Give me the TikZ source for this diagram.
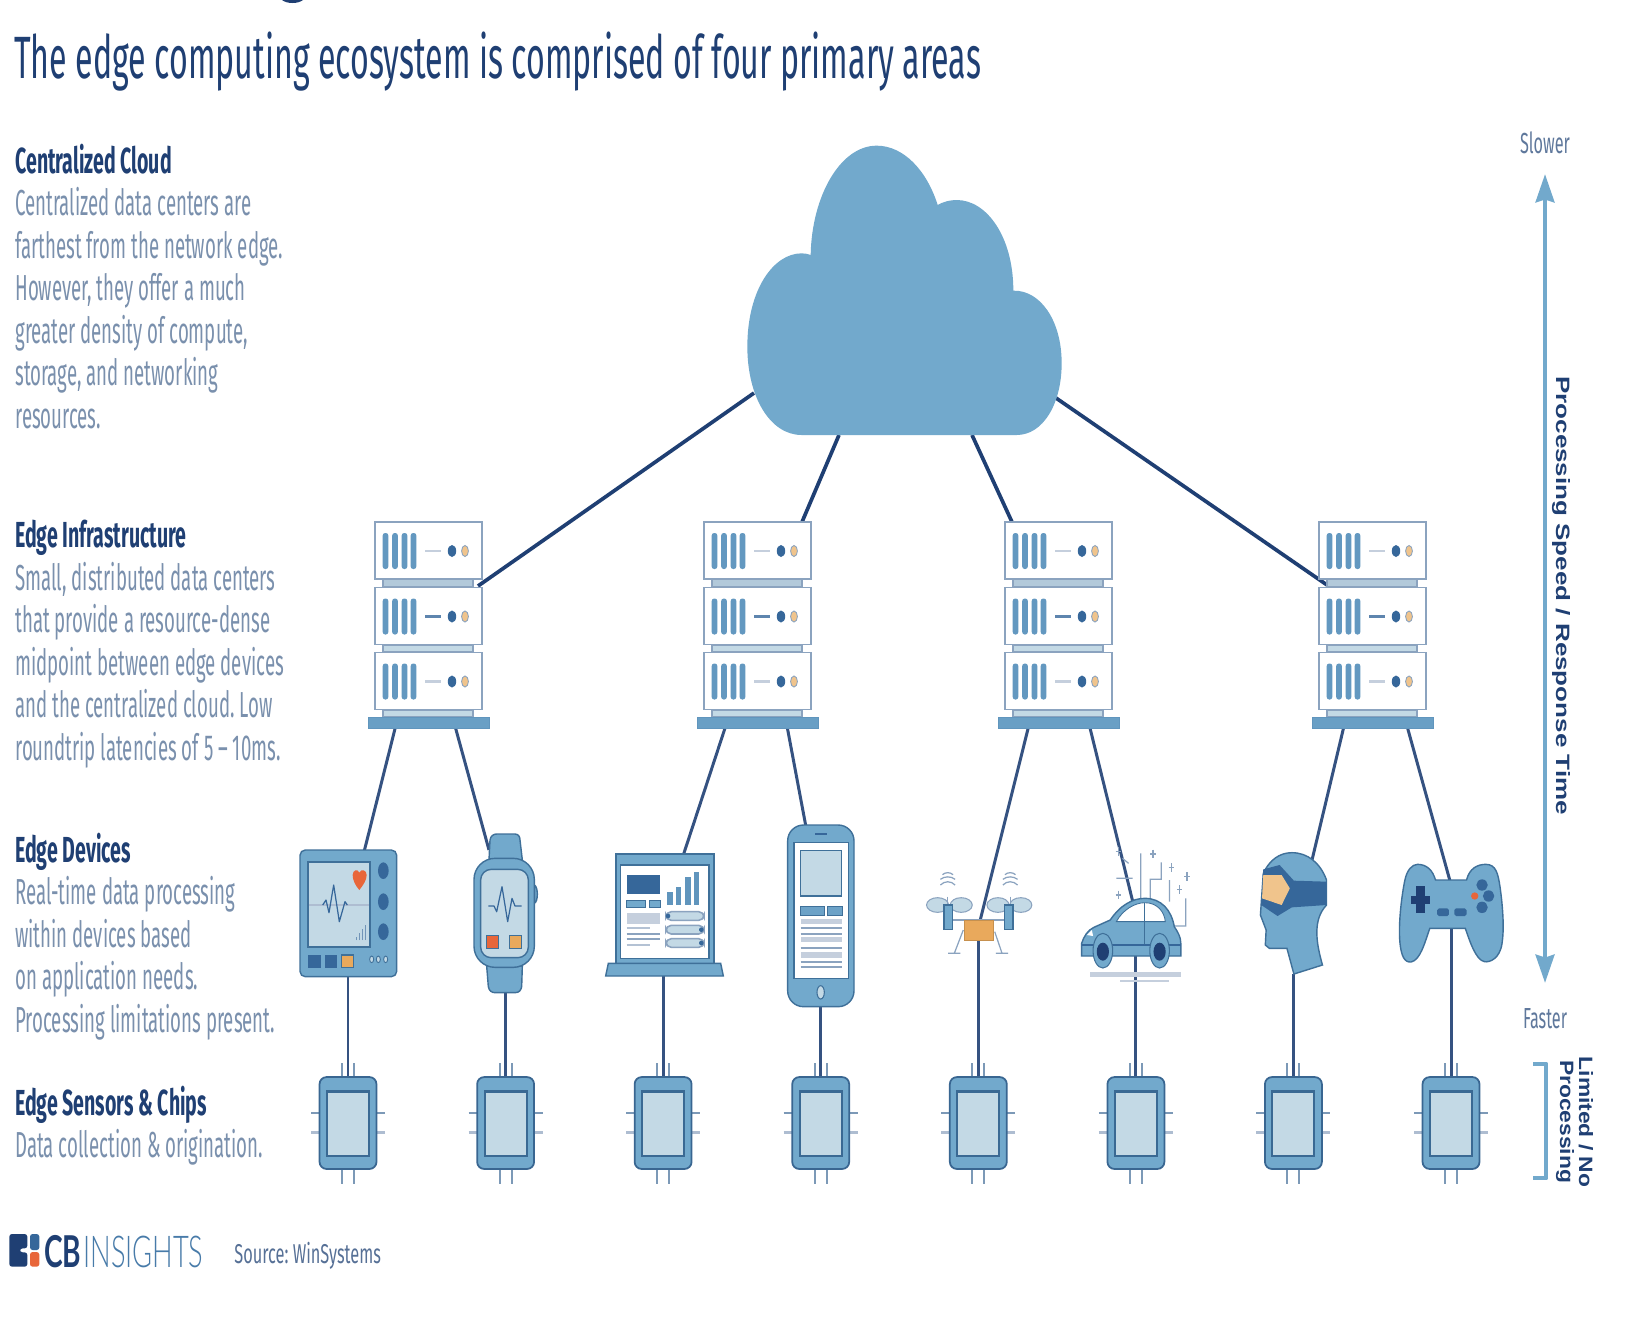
\documentclass[tikz,border=0pt]{standalone}
\usepackage{fontspec}
\usetikzlibrary{fit,arrows.meta}
\setmainfont{Fira Sans}
\newfontfamily\tfont[FakeStretch=0.538]{Fira Sans}
\newfontfamily\bfont[FakeStretch=0.515]{Fira Sans}
\newfontfamily\hfont[FakeStretch=0.54]{Fira Sans}
\newfontfamily\sfont[FakeStretch=0.60]{Fira Sans}
\newfontfamily\ffont[FakeStretch=0.56]{Fira Sans}
\newfontfamily\lfont[FakeStretch=0.64]{Lato}
\newfontfamily\llfont[FakeStretch=0.62]{Lato Light}
\newfontfamily\wfont[FakeStretch=1.345]{Liberation Sans}
\newfontfamily\xfont[FakeStretch=1.18]{Liberation Sans}
\definecolor{navy}{HTML}{1F3F73}
\definecolor{inkb}{HTML}{7A90AD}
\definecolor{cblue}{HTML}{72A9CC}
\definecolor{mid}{HTML}{36679A}
\definecolor{edge}{HTML}{3F7099}
\definecolor{pale}{HTML}{C3D9E5}
\definecolor{gry}{HTML}{C5CFDD}
\definecolor{org}{HTML}{E9A95C}
\definecolor{red}{HTML}{E8663A}
\definecolor{pch}{HTML}{F0C48C}
\definecolor{rackl}{HTML}{8BA3BF}
\def\rackbox(#1,#2){%
  \fill[white,draw=rackl,line width=1pt] (#1-53,#2) rectangle (#1+54,#2+57);
  \foreach \o in {-42.5,-33,-23.5,-14.5}{\fill[cblue!75!mid,rounded corners=1.4pt] (#1+\o-2.8,#2+11) rectangle (#1+\o+2.8,#2+47);}
  \fill[mid] (#1+24,#2+29) ellipse (4.2 and 6);
  \fill[pch,draw=rackl,line width=.5pt] (#1+37,#2+29) ellipse (3.4 and 5.5);
}
\newcommand\rackunit[1]{%
  \fill[pale!70!rackl,draw=rackl,line width=.8pt] (#1-45,579) rectangle (#1+45,587);
  \fill[pale,draw=rackl,line width=.8pt] (#1-45,645) rectangle (#1+45,652);
  \fill[pale,draw=rackl,line width=.8pt] (#1-45,710) rectangle (#1+45,717);
  \rackbox(#1,522)\rackbox(#1,587.5)\rackbox(#1,652.5)
  \draw[gry,line width=1.5pt] (#1-3,551)--(#1+13,551);
  \draw[mid!80!white,line width=1.5pt] (#1-3,616.5)--(#1+13,616.5);
  \draw[gry,line width=1.5pt] (#1-3,681.5)--(#1+13,681.5);
}
\tikzset{
  linkA/.style={navy,line width=2.1pt},
  linkB/.style={navy!90!white,line width=1.7pt},
  ghost/.style={inner sep=0pt,outer sep=0pt},
  chipbody/.style={draw=edge!80!navy,fill=cblue,line width=1pt,rounded corners=4pt,minimum width=32.4pt,minimum height=52.3pt,inner sep=0pt},
  pin/.style={rackl!80!edge,line width=1.1pt},
  txt/.style={anchor=base west,inner sep=0pt,text=inkb},
  hd/.style={anchor=base west,inner sep=0pt,text=navy},
  z2/.style={shift={(290,830)},scale=0.33333},
  z3/.style={shift={(900,830)},xscale=0.40816,yscale=0.33333},
  z8/.style={shift={(780,820)},scale=0.33333},
  z9/.style={shift={(730,130)},scale=0.33333},
  z6/.style={shift={(0,1220)},scale=0.33333},
  icon/.style={fill=cblue,draw=edge,line width=.8pt},
}
\frenchspacing
\begin{document}
\begin{tikzpicture}[x=0.02cm,y=-0.02cm]
\useasboundingbox (0,0) rectangle (1628,1316);
\fill[white] (0,0) rectangle (1628,1316);
% cut-off descender
\fill[navy] (282,0) .. controls (287,4) and (298,4) .. (303,0) -- cycle;
% title
\node[anchor=base west,inner sep=0pt,text=navy] (title) at (14,78) {\tfont\fontsize{34pt}{34pt}\selectfont The edge computing ecosystem is comprised of four primary areas};
% left texts
\def\bsz{\bfont\fontsize{20.6pt}{20.6pt}\selectfont}
\def\hsz{\hfont\bfseries\fontsize{20.6pt}{20.6pt}\selectfont}
\node[hd] (h1) at (15,173) {\hsz Centralized Cloud};
\node[txt] (t11) at (15,215.5) {\bsz Centralized data centers are};
\node[txt] (t12) at (15,258) {\bsz farthest from the network edge.};
\node[txt] (t13) at (15,300.5) {\bsz However, they offer a much};
\node[txt] (t14) at (15,343) {\bsz greater density of compute,};
\node[txt] (t15) at (15,385.5) {\bsz storage, and networking};
\node[txt] (t16) at (15,428) {\bsz resources.};
\node[hd] (h2) at (15,547.5) {\hsz Edge Infrastructure};
\node[txt] (t21) at (15,590) {\bsz Small, distributed data centers};
\node[txt] (t22) at (15,632.5) {\bsz that provide a resource-dense};
\node[txt] (t23) at (15,675) {\bsz midpoint between edge devices};
\node[txt] (t24) at (15,717.5) {\bsz and the centralized cloud. Low};
\node[txt] (t25) at (15,760) {\bsz roundtrip latencies of 5 – 10ms.};
\node[hd] (h3) at (15,862) {\hsz Edge Devices};
\node[txt] (t31) at (15,904) {\bsz Real-time data processing};
\node[txt] (t32) at (15,947) {\bsz within devices based};
\node[txt] (t33) at (15,989.5) {\bsz on application needs.};
\node[txt] (t34) at (15,1032) {\bsz Processing limitations present.};
\node[hd] (h4) at (15,1115) {\hsz Edge Sensors \& Chips};
\node[txt] (t41) at (15,1157.5) {\bsz Data collection \& origination.};
% logo
\begin{scope}[z6]
\fill[navy,rounded corners=1.5pt] (28,42) -- (82,42) -- (82,85) -- (60,85) -- (60,97) -- (82,97) -- (82,140) -- (28,140) -- cycle;
\fill[mid,rounded corners=1.5pt] (90,42) rectangle (118,90);
\fill[red,rounded corners=1.5pt] (90,96) rectangle (118,140);
\end{scope}
\node[anchor=base west,inner sep=0pt,text=navy] (cb) at (44,1267) {\lfont\bfseries\fontsize{25pt}{25pt}\selectfont CB};
\node[anchor=base west,inner sep=0pt,text=mid!70!cblue] (ins) at (83,1267) {\llfont\fontsize{25pt}{25pt}\selectfont INSIGHTS};
\node[anchor=base west,inner sep=0pt,text=inkb!60!navy] (src) at (234,1263) {\sfont\fontsize{15.5pt}{15.5pt}\selectfont Source: WinSystems};
% right scale
\node[inner sep=0pt,text=inkb!70!navy] (slow) at (1545,143) {\ffont\fontsize{16.5pt}{16.5pt}\selectfont Slower};
\node[inner sep=0pt,text=inkb!70!navy] (fast) at (1545,1019) {\ffont\fontsize{16.5pt}{16.5pt}\selectfont Faster};
\coordinate (aT) at (1545,174);
\coordinate (aB) at (1545,983);
\draw[cblue,line width=2.8pt,{Stealth[length=16pt,width=10.5pt,inset=1.5pt]}-{Stealth[length=16pt,width=10.5pt,inset=1.5pt]}] (aT) -- (aB);
\node[rotate=-90,inner sep=0pt,text=navy] (speed) at (1561,595.6) {\wfont\bfseries\fontsize{11pt}{11pt}\selectfont Processing Speed / Response Time};
\draw[cblue,line width=2.8pt,line join=round] (1533,1064) -- (1546,1064) -- (1546,1178) -- (1533,1178);
\node[rotate=-90,inner sep=0pt,text=navy] (lim1) at (1586,1122) {\xfont\bfseries\fontsize{11pt}{11pt}\selectfont Limited / No};
\node[rotate=-90,inner sep=0pt,text=navy] (lim2) at (1565,1121.5) {\xfont\bfseries\fontsize{11pt}{11pt}\selectfont Processing};
% anchors for connectors
\node[ghost,fit={(747,145)(1062,435)}] (cloud) {};
\foreach \n/\x in {1/428,2/757,3/1058,4/1372}{
  \node[ghost,fit={(\x-60,522)(\x+60,728)}] (rack\n) {};
}
\coordinate (cl1) at (754,393); \coordinate (cl2) at (839,435);
\coordinate (cl3) at (972,435); \coordinate (cl4) at (1056,398);
\coordinate (rt1) at (478,586); \coordinate (rt2) at (802,522);
\coordinate (rt3) at (1012,522); \coordinate (rt4) at (1328.5,586);
\draw[linkA] (cl1) -- (rt1);
\draw[linkA] (cl2) -- (rt2);
\draw[linkA] (cl3) -- (rt3);
\draw[linkA] (cl4) -- (rt4);
% rack to device
\coordinate (b1) at (395.7,726); \coordinate (b2) at (455,726);
\coordinate (b3) at (725.7,726); \coordinate (b4) at (787,726);
\coordinate (b5) at (1028.7,726); \coordinate (b6) at (1089.5,726);
\coordinate (b7) at (1344,726); \coordinate (b8) at (1407,726);
\coordinate (e1) at (364,852); \coordinate (e2) at (489,850);
\coordinate (e3) at (683,856); \coordinate (e4) at (806,827);
\coordinate (e5) at (980,921); \coordinate (e6) at (1132.6,901);
\coordinate (e7) at (1312,860); \coordinate (e8) at (1450,881);
\foreach \n in {1,...,8}{\draw[linkB] (b\n) -- (e\n);}
% device ghosts
\node[ghost,fit={(300,850)(397,977)}] (d1) {};
\node[ghost,fit={(475,834)(536,993)}] (d2) {};
\node[ghost,fit={(606,854)(722,976)}] (d3) {};
\node[ghost,fit={(788,825)(854,1007)}] (d4) {};
\node[ghost,fit={(954,920)(1002,940)}] (d5) {};
\node[ghost,fit={(1081,900)(1189,955)}] (d6) {};
\node[ghost,fit={(1260,858)(1326,974)}] (d7) {};
\node[ghost,fit={(1400,880)(1502,925)}] (d8) {};
% chips
\foreach \n/\x in {1/348,2/505.6,3/663.1,4/820.7,5/978.3,6/1135.9,7/1293.4,8/1451}{
  \foreach \o in {-6,6}{
    \draw[pin] (\x+\o,1063) -- (\x+\o,1078);
    \draw[pin] (\x+\o,1168) -- (\x+\o,1184);
  }
  \draw[pin] (\x-37,1113) -- (\x-27,1113);
  \draw[pin,line width=1.7pt,gry!60!rackl] (\x-37,1132) -- (\x-27,1132);
  \draw[pin] (\x+27,1113) -- (\x+37,1113);
  \draw[pin,line width=1.7pt,gry!60!rackl] (\x+27,1132) -- (\x+37,1132);
  \node[chipbody] (c\n) at (\x,1123) {};
  \fill[pale,draw=edge!85!navy,line width=1.2pt] (\x-21,1091.5) rectangle (\x+21,1156);
  \draw[linkB] (c\n.north |- d\n.south) -- (c\n.north);
}
% racks
\foreach \x in {428,757,1058,1372}{
  \rackunit{\x}
  \fill[cblue!85!mid,draw=cblue!70!mid,line width=.5pt] (\x-60,717) rectangle (\x+61,728);
}
% cloud
\begin{scope}[z9]
\fill[cblue] (215,915) .. controls (120,915) and (52,800) .. (52,650) .. controls (52,480) and (130,370) .. (215,370) .. controls (225,370) and (235,372) .. (242,375) .. controls (245,200) and (330,47) .. (440,47) .. controls (520,47) and (590,120) .. (623,225) .. controls (640,215) and (660,210) .. (680,210) .. controls (770,210) and (850,320) .. (850,482) .. controls (930,480) and (995,570) .. (995,700) .. controls (995,820) and (940,915) .. (860,915) -- cycle;
\end{scope}
% monitor, watch, laptop
\begin{scope}[z2]
% monitor
\fill[icon,rounded corners=3pt] (30,60) rectangle (320,440);
\fill[pale,draw=edge,line width=1.2pt] (55,97) rectangle (240,350);
\draw[gry!60!rackl,line width=1.2pt] (58,226) -- (237,226);
\draw[mid,line width=.7pt,line join=round] (98,225) -- (108,210) -- (117,248) -- (131,165) -- (148,275) -- (165,215) -- (172,225);
\fill[red] (208,180) .. controls (195,165) and (188,150) .. (188,135) .. controls (188,120) and (203,115) .. (208,128) .. controls (213,115) and (230,120) .. (230,135) .. controls (230,150) and (220,165) .. (208,180) -- cycle;
\foreach \y in {122,215,305}{\fill[mid] (280,\y) ellipse (16 and 25);}
\fill[mid] (55,375) rectangle (92,413);
\fill[mid] (105,375) rectangle (140,413);
\fill[org,draw=edge,line width=.6pt] (155,375) rectangle (190,413);
\foreach \x in {245,265,287}{\fill[pale,draw=edge,line width=.5pt] (\x,388) ellipse (6 and 10);}
\foreach \x/\t in {199/320,208/310,217/298,226/285}{\draw[mid!70!white,line width=.6pt] (\x,330) -- (\x,\t);}
% watch
\fill[icon] (597,90) -- (600,30) .. controls (602,18) and (610,12) .. (620,12) -- (675,12) .. controls (685,12) and (690,20) .. (690,30) -- (697,90) -- cycle;
\fill[icon] (590,408) -- (595,470) .. controls (597,482) and (605,488) .. (615,488) -- (675,488) .. controls (688,488) and (693,480) .. (695,470) -- (697,408) -- cycle;
\fill[icon] (733,165) .. controls (745,170) and (745,215) .. (733,220) -- cycle;
\fill[icon,rounded corners=12pt] (552,85) rectangle (733,412);
\fill[pale,draw=edge,line width=.8pt,rounded corners=6pt] (572,118) rectangle (715,383);
\draw[mid,line width=.7pt,line join=round] (595,228) -- (612,228) -- (620,245) -- (636,170) -- (653,275) -- (666,205) -- (675,228) -- (695,228);
\fill[red,draw=edge,line width=.5pt] (590,317) rectangle (625,355);
\fill[org,draw=edge,line width=.5pt] (658,317) rectangle (695,355);
% laptop
\fill[icon] (978,72) rectangle (1272,402);
\fill[white,draw=edge,line width=.8pt] (992,105) rectangle (1257,385);
\fill[icon] (955,400) -- (1292,400) -- (1300,438) -- (947,438) -- cycle;
\fill[mid] (1010,135) rectangle (1110,192);
\fill[cblue,draw=edge,line width=.4pt] (1010,210) rectangle (1067,233);
\fill[cblue,draw=edge,line width=.4pt] (1077,210) rectangle (1110,233);
\fill[gry] (1010,250) rectangle (1110,282);
\draw[gry!70!rackl,line width=1.2pt] (1010,295) -- (1080,295);
\draw[rackl,line width=1.2pt] (1010,312) -- (1110,312) (1010,328) -- (1110,328);
\draw[gry!70!rackl,line width=1.2pt] (1010,346) -- (1080,346);
\fill[cblue!70!mid] (1132,185) rectangle (1148,225);
\fill[cblue!70!mid] (1157,172) rectangle (1173,225);
\fill[cblue!70!mid] (1185,142) rectangle (1202,225);
\fill[cblue!70!mid] (1212,127) rectangle (1227,225);
\foreach \y in {245,286,326}{\fill[pale,draw=rackl,line width=.9pt,rounded corners=3pt] (1128,\y) rectangle (1242,\y+26);}
\fill[mid] (1134,258) circle (7); \fill[mid] (1234,299) circle (7); \fill[mid] (1234,339) circle (7);
\end{scope}
% tablet
\begin{scope}[z8]
\fill[icon,rounded corners=9pt] (23,15) rectangle (222,560);
\fill[white,draw=edge,line width=.7pt] (42,67) rectangle (205,475);
\draw[mid,line width=1pt] (106,43) -- (140,43);
\fill[pale,draw=edge,line width=.8pt] (62,92) rectangle (185,228);
\fill[cblue!90!mid,draw=edge,line width=.4pt] (62,258) rectangle (133,287);
\fill[cblue!90!mid,draw=edge,line width=.4pt] (142,258) rectangle (187,287);
\foreach \a/\b in {297/313,338/345,350/367,397/413}{\fill[gry] (62,\a) rectangle (186,\b);}
\foreach \y in {325,342,383,425,442}{\draw[rackl,line width=1.1pt] (62,\y) -- (186,\y);}
\fill[pale,draw=edge,line width=.6pt] (122,517) ellipse (11 and 20);
\end{scope}
% drone, car, head, gamepad
\begin{scope}[z3]
% drone
\foreach \x in {92,150,240,296}{\fill[pale,draw=rackl,line width=.6pt] (\x,225) ellipse (27 and 22);}
\draw[rackl,line width=.9pt] (125,270) -- (260,270);
\draw[rackl,line width=.7pt] (155,300) -- (133,370) (118,370) -- (148,370) (232,305) -- (250,370) (235,370) -- (265,370);
\draw[rackl,line width=.7pt] (117,200) -- (117,225) (270,200) -- (270,225);
\fill[icon] (108,225) rectangle (128,298);
\fill[icon] (256,225) rectangle (277,298);
\fill[org,draw=org!85!black,line width=.4pt] (157,270) rectangle (228,330);
\foreach \x in {117,270}{
  \draw[rackl,line width=.7pt] (\x-18,148) .. controls (\x-8,138) and (\x+8,138) .. (\x+18,148);
  \draw[rackl,line width=.7pt] (\x-18,165) .. controls (\x-8,152) and (\x+8,152) .. (\x+18,165);
  \draw[rackl,line width=.7pt] (\x-13,134) .. controls (\x-6,126) and (\x+6,126) .. (\x+13,134);
}
% car
\fill[gry] (465,425) rectangle (688,440);
\fill[gry] (540,450) rectangle (658,456);
\draw[rackl,line width=.7pt] (590,205) -- (590,70) (613,210) -- (613,148) -- (640,148) -- (640,97) (660,215) -- (660,150) (672,288) -- (700,288) -- (700,205) (530,145) -- (570,145) (545,85) -- (560,100);
\foreach \x/\y in {620/72,665/112,703/140,685/178,535/195,535/65}{
  \draw[rackl,line width=.7pt] (\x-7,\y) -- (\x+7,\y) (\x,\y-13) -- (\x,\y+13);
}
\fill[icon] (445,378) -- (445,340) .. controls (450,320) and (460,300) .. (475,292) -- (515,270) .. controls (540,225) and (570,205) .. (600,205) .. controls (640,205) and (665,240) .. (672,290) .. controls (680,305) and (688,320) .. (688,340) -- (688,378) -- cycle;
\fill[white,draw=edge,line width=.5pt] (530,275) .. controls (545,240) and (575,218) .. (600,218) .. controls (630,218) and (648,245) .. (650,275) -- cycle;
\draw[edge,line width=.5pt] (598,218) -- (598,345);
\draw[mid,line width=1pt] (445,345) -- (688,345);
\foreach \x in {497,636}{
  \fill[cblue,draw=edge,line width=.6pt] (\x,362) ellipse (24 and 52);
  \fill[navy] (\x,365) ellipse (15 and 27);
}
\fill[white] (458,315) -- (470,300) -- (473,318) -- cycle;
% head
\fill[icon] (960,68) .. controls (1000,68) and (1030,100) .. (1045,150) -- (1045,225) .. controls (1010,270) and (1020,340) .. (1035,405) -- (965,432) -- (948,355) -- (905,355) -- (895,345) -- (897,300) -- (883,255) -- (890,130) .. controls (905,90) and (930,68) .. (960,68) -- cycle;
\fill[mid] (890,118) -- (930,105) -- (965,152) -- (1045,155) -- (1045,225) -- (960,232) -- (925,258) -- (885,225) -- cycle;
\fill[pch] (890,135) -- (935,135) -- (955,175) -- (935,225) -- (887,205) -- cycle;
% gamepad
\fill[icon] (1312,150) -- (1388,150) .. controls (1395,115) and (1415,103) .. (1435,103) .. controls (1460,103) and (1465,130) .. (1470,170) .. controls (1478,240) and (1480,300) .. (1475,340) .. controls (1470,385) and (1445,398) .. (1432,395) .. controls (1410,390) and (1395,330) .. (1385,295) -- (1298,295) .. controls (1285,340) and (1275,390) .. (1252,396) .. controls (1235,398) and (1228,375) .. (1225,340) .. controls (1220,280) and (1230,190) .. (1237,150) .. controls (1242,120) and (1255,103) .. (1268,103) .. controls (1290,103) and (1305,120) .. (1312,150) -- cycle;
\fill[navy] (1265,168) rectangle (1285,250);
\fill[navy] (1253,197) rectangle (1298,222);
\fill[mid,rounded corners=1pt] (1316,235) rectangle (1345,258);
\fill[mid,rounded corners=1pt] (1358,235) rectangle (1388,258);
\fill[mid] (1426,165) ellipse (14 and 17);
\fill[mid] (1442,198) ellipse (14 and 17);
\fill[mid] (1426,232) ellipse (14 and 17);
\fill[red] (1408,198) ellipse (9 and 11);
\end{scope}
\end{tikzpicture}
\end{document}
